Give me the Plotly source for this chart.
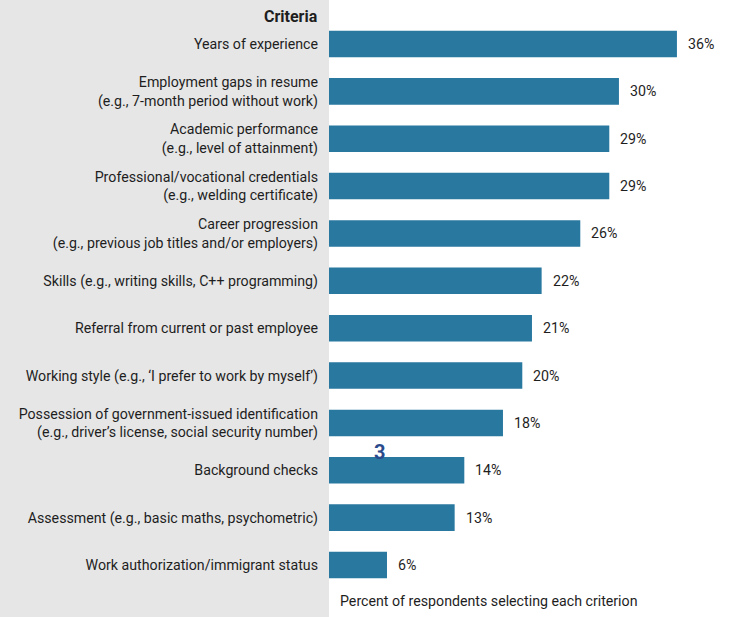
import plotly.graph_objects as go

criteria = [
    "Years of experience",
    "Employment gaps in resume<br>(e.g., 7-month period without work)",
    "Academic performance<br>(e.g., level of attainment)",
    "Professional/vocational credentials<br>(e.g., welding certificate)",
    "Career progression<br>(e.g., previous job titles and/or employers)",
    "Skills (e.g., writing skills, C++ programming)",
    "Referral from current or past employee",
    "Working style (e.g., \u2018I prefer to work by myself\u2019)",
    "Possession of government-issued identification<br>(e.g., driver\u2019s license, social security number)",
    "Background checks",
    "Assessment (e.g., basic maths, psychometric)",
    "Work authorization/immigrant status",
]
percent = [36, 30, 29, 29, 26, 22, 21, 20, 18, 14, 13, 6]

BAR = "#2878a0"
FONT = "Roboto"
FS = 14.2

fig = go.Figure()
fig.add_trace(go.Bar(
    x=percent, y=criteria, orientation="h",
    marker=dict(color=BAR, line=dict(width=0)),
    width=0.56,
    hoverinfo="skip",
))

for c, v in zip(criteria, percent):
    fig.add_annotation(x=v, y=c, text=f"{v}%", showarrow=False,
                       xanchor="left", xshift=9,
                       font=dict(family=FONT, size=FS, color="#1e1e1e"))

fig.add_annotation(xref="paper", yref="paper", x=-0.022, y=1, yshift=-16,
                   text="<b>Criteria</b>", showarrow=False, xanchor="right", yanchor="middle",
                   font=dict(family=FONT, size=16, color="#1e1e1e"))
fig.add_annotation(xref="paper", yref="paper", x=0.022, y=0, yshift=16,
                   text="Percent of respondents selecting each criterion", showarrow=False,
                   xanchor="left", yanchor="middle",
                   font=dict(family=FONT, size=FS, color="#1e1e1e"))
fig.add_annotation(xref="paper", yref="paper", x=0.126, y=0, yshift=165,
                   text="<b>3</b>", showarrow=False, xanchor="center", yanchor="middle",
                   font=dict(family=FONT, size=20, color="#2a4a8c"))

fig.update_layout(
    width=733, height=617,
    margin=dict(l=329, r=0, t=0, b=0),
    paper_bgcolor="#e6e6e6",
    plot_bgcolor="white",
    showlegend=False,
    bargap=0.44,
    font=dict(family=FONT, size=FS, color="#1e1e1e"),
    xaxis=dict(range=[0, 41.8], showgrid=False, zeroline=False, showticklabels=False,
               ticks="", fixedrange=True),
    yaxis=dict(type="category", range=[12.098, -0.929], showgrid=False, zeroline=False,
               ticks="", ticklabelstandoff=10, fixedrange=True,
               tickfont=dict(family=FONT, size=FS, color="#1e1e1e")),
)

fig.write_html("out.html", config={"displayModeBar": False},
               post_script="document.body.style.margin='0';document.body.style.padding='0';")
